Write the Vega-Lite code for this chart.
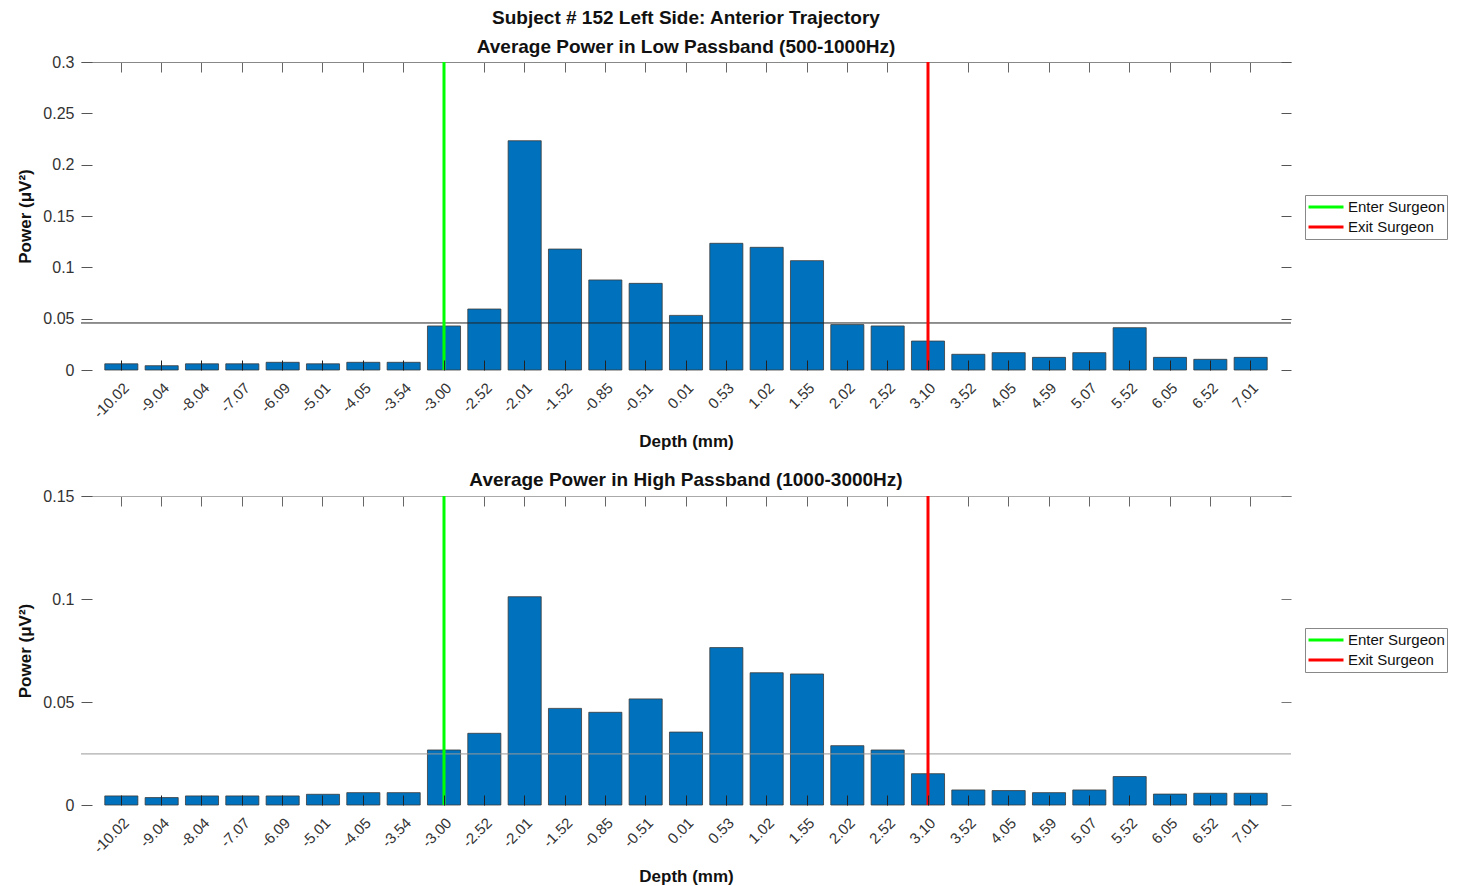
{
  "$schema": "https://vega.github.io/schema/vega-lite/v6.json",
  "padding": {"left": 16, "top": 9, "right": 2, "bottom": 2},
  "background": "white",
  "config": {
    "font": "Liberation Sans",
    "view": {"stroke": null},
    "axis": {"grid": false, "labelColor": "#333", "titleColor": "#111", "labelFont": "Liberation Sans", "titleFont": "Liberation Sans"},
    "title": {"font": "Liberation Sans", "fontSize": 19, "fontWeight": "bold", "color": "#111", "anchor": "middle"},
    "legend": {"labelFont": "Liberation Sans"}
  },
  "datasets": {
    "low": [
      {"depth": "-10.02", "power": 0.0060},
      {"depth": "-9.04", "power": 0.0042},
      {"depth": "-8.04", "power": 0.0060},
      {"depth": "-7.07", "power": 0.0060},
      {"depth": "-6.09", "power": 0.0075},
      {"depth": "-5.01", "power": 0.0060},
      {"depth": "-4.05", "power": 0.0075},
      {"depth": "-3.54", "power": 0.0075},
      {"depth": "-3.00", "power": 0.0429},
      {"depth": "-2.52", "power": 0.0594},
      {"depth": "-2.01", "power": 0.2233},
      {"depth": "-1.52", "power": 0.1178},
      {"depth": "-0.85", "power": 0.0877},
      {"depth": "-0.51", "power": 0.0844},
      {"depth": "0.01", "power": 0.0532},
      {"depth": "0.53", "power": 0.1234},
      {"depth": "1.02", "power": 0.1195},
      {"depth": "1.55", "power": 0.1065},
      {"depth": "2.02", "power": 0.0442},
      {"depth": "2.52", "power": 0.0429},
      {"depth": "3.10", "power": 0.0282},
      {"depth": "3.52", "power": 0.0153},
      {"depth": "4.05", "power": 0.0169},
      {"depth": "4.59", "power": 0.0123},
      {"depth": "5.07", "power": 0.0169},
      {"depth": "5.52", "power": 0.0412},
      {"depth": "6.05", "power": 0.0123},
      {"depth": "6.52", "power": 0.0104},
      {"depth": "7.01", "power": 0.0123}
    ],
    "high": [
      {"depth": "-10.02", "power": 0.0044},
      {"depth": "-9.04", "power": 0.0036},
      {"depth": "-8.04", "power": 0.0044},
      {"depth": "-7.07", "power": 0.0044},
      {"depth": "-6.09", "power": 0.0044},
      {"depth": "-5.01", "power": 0.0052},
      {"depth": "-4.05", "power": 0.0060},
      {"depth": "-3.54", "power": 0.0060},
      {"depth": "-3.00", "power": 0.0267},
      {"depth": "-2.52", "power": 0.0348},
      {"depth": "-2.01", "power": 0.1011},
      {"depth": "-1.52", "power": 0.0469},
      {"depth": "-0.85", "power": 0.0450},
      {"depth": "-0.51", "power": 0.0515},
      {"depth": "0.01", "power": 0.0354},
      {"depth": "0.53", "power": 0.0764},
      {"depth": "1.02", "power": 0.0642},
      {"depth": "1.55", "power": 0.0636},
      {"depth": "2.02", "power": 0.0288},
      {"depth": "2.52", "power": 0.0267},
      {"depth": "3.10", "power": 0.0152},
      {"depth": "3.52", "power": 0.0073},
      {"depth": "4.05", "power": 0.0070},
      {"depth": "4.59", "power": 0.0060},
      {"depth": "5.07", "power": 0.0073},
      {"depth": "5.52", "power": 0.0138},
      {"depth": "6.05", "power": 0.0053},
      {"depth": "6.52", "power": 0.0057},
      {"depth": "7.01", "power": 0.0057}
    ],
    "surgeon": [
      {"event": "Enter Surgeon", "depth": "-3.00"},
      {"event": "Exit Surgeon", "depth": "3.10"}
    ],
    "thrLow": [{"threshold": 0.0458}],
    "thrHigh": [{"threshold": 0.0248}]
  },
  "vconcat": [
    {
      "width": 1210,
      "height": 308,
      "title": {"text": ["Subject # 152 Left Side: Anterior Trajectory", "Average Power in Low Passband (500-1000Hz)"], "lineHeight": 29, "offset": -3},
      "layer": [
        {
          "data": {"name": "low"},
          "mark": {"type": "bar", "color": "#0072BD", "stroke": "#3a3a3a", "strokeWidth": 0.8},
          "encoding": {
            "x": {"field": "depth", "type": "ordinal", "sort": null,
              "scale": {"paddingInner": 0.18, "paddingOuter": 0.59},
              "axis": {"title": "Depth (mm)", "titleFontSize": 17, "titleFontWeight": "bold", "titlePadding": 13,
                "labelAngle": -45, "labelAlign": "right", "labelBaseline": "top", "labelFontSize": 15, "labelPadding": 20,
                "domain": false, "tickSize": -10, "tickColor": "#222", "zindex": 1}},
            "y": {"field": "power", "type": "quantitative",
              "scale": {"domain": [0, 0.3], "nice": false},
              "axis": {"title": "Power (μV²)", "titleFontSize": 17, "titleFontWeight": "bold", "titlePadding": 8,
                "values": [0, 0.05, 0.1, 0.15, 0.2, 0.25, 0.3], "labelExpr": "datum.value == 0 ? '0' : format(datum.value, '.2~f')", "labelFontSize": 16, "labelPadding": 18,
                "domain": false, "tickSize": -11, "tickColor": "#555"}}
          }
        },
        {
          "data": {"name": "thrLow"},
          "mark": {"type": "rule", "color": "#222", "strokeWidth": 1},
          "encoding": {
            "y": {"field": "threshold", "type": "quantitative",
              "axis": {"orient": "right", "title": null, "labels": false, "domain": false,
                "values": [0, 0.05, 0.1, 0.15, 0.2, 0.25, 0.3], "tickSize": -10, "tickColor": "#555"}}
          }
        },
        {
          "data": {"name": "surgeon"},
          "mark": {"type": "rule", "strokeWidth": 3},
          "encoding": {
            "x": {"field": "depth", "type": "ordinal", "sort": null,
              "axis": {"orient": "top", "title": null, "labels": false, "domain": true, "domainColor": "#888",
                "tickSize": -10, "tickColor": "#666"}},
            "color": {"field": "event", "type": "nominal",
              "scale": {"domain": ["Enter Surgeon", "Exit Surgeon"], "range": ["#00FF00", "#FF0000"]},
              "legend": {"title": null, "orient": "none", "legendX": 1224, "legendY": 133,
                "symbolType": "stroke", "symbolSize": 1225, "symbolStrokeWidth": 3, "clipHeight": 20,
                "labelFontSize": 15, "labelColor": "#111", "labelOffset": 3, "rowPadding": 0,
                "strokeColor": "#888", "padding": 2}}
          }
        }
      ],
      "resolve": {"axis": {"x": "independent", "y": "independent"}}
    },
    {
      "width": 1210,
      "height": 309,
      "title": {"text": "Average Power in High Passband (1000-3000Hz)", "offset": -2},
      "layer": [
        {
          "data": {"name": "high"},
          "mark": {"type": "bar", "color": "#0072BD", "stroke": "#3a3a3a", "strokeWidth": 0.8},
          "encoding": {
            "x": {"field": "depth", "type": "ordinal", "sort": null,
              "scale": {"paddingInner": 0.18, "paddingOuter": 0.59},
              "axis": {"title": "Depth (mm)", "titleFontSize": 17, "titleFontWeight": "bold", "titlePadding": 13,
                "labelAngle": -45, "labelAlign": "right", "labelBaseline": "top", "labelFontSize": 15, "labelPadding": 20,
                "domain": false, "tickSize": -10, "tickColor": "#222", "zindex": 1}},
            "y": {"field": "power", "type": "quantitative",
              "scale": {"domain": [0, 0.15], "nice": false},
              "axis": {"title": "Power (μV²)", "titleFontSize": 17, "titleFontWeight": "bold", "titlePadding": 8,
                "values": [0, 0.05, 0.1, 0.15], "labelExpr": "datum.value == 0 ? '0' : format(datum.value, '.2~f')", "labelFontSize": 16, "labelPadding": 18,
                "domain": false, "tickSize": -11, "tickColor": "#555"}}
          }
        },
        {
          "data": {"name": "thrHigh"},
          "mark": {"type": "rule", "color": "#999", "strokeWidth": 1},
          "encoding": {
            "y": {"field": "threshold", "type": "quantitative",
              "axis": {"orient": "right", "title": null, "labels": false, "domain": false,
                "values": [0, 0.05, 0.1, 0.15], "tickSize": -10, "tickColor": "#777"}}
          }
        },
        {
          "data": {"name": "surgeon"},
          "mark": {"type": "rule", "strokeWidth": 3},
          "encoding": {
            "x": {"field": "depth", "type": "ordinal", "sort": null,
              "axis": {"orient": "top", "title": null, "labels": false, "domain": true, "domainColor": "#aaa",
                "tickSize": -10, "tickColor": "#666"}},
            "color": {"field": "event", "type": "nominal",
              "scale": {"domain": ["Enter Surgeon", "Exit Surgeon"], "range": ["#00FF00", "#FF0000"]},
              "legend": {"title": null, "orient": "none", "legendX": 1224, "legendY": 132,
                "symbolType": "stroke", "symbolSize": 1225, "symbolStrokeWidth": 3, "clipHeight": 20,
                "labelFontSize": 15, "labelColor": "#111", "labelOffset": 3, "rowPadding": 0,
                "strokeColor": "#888", "padding": 2}}
          }
        }
      ],
      "resolve": {"axis": {"x": "independent", "y": "independent"}}
    }
  ],
  "spacing": 21,
  "resolve": {"scale": {"color": "independent"}, "legend": {"color": "independent"}}
}
